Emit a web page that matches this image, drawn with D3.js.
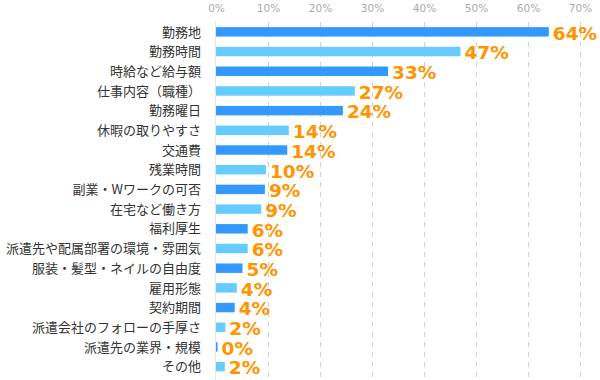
<!DOCTYPE html>
<html>
<head>
<meta charset="utf-8">
<script src="https://cdn.jsdelivr.net/npm/d3@7"></script>
<style>
html, body { margin: 0; padding: 0; background: #fff; }
svg { display: block; }
</style>
</head>
<body>
<svg id="chart" width="600" height="380"></svg>
<script>
const categories = [
  "勤務地", "勤務時間", "時給など給与額", "仕事内容（職種）", "勤務曜日",
  "休暇の取りやすさ", "交通費", "残業時間", "副業・Wワークの可否", "在宅など働き方",
  "福利厚生", "派遣先や配属部署の環境・雰囲気", "服装・髪型・ネイルの自由度", "雇用形態", "契約期間",
  "派遣会社のフォローの手厚さ", "派遣先の業界・規模", "その他"
];
const values = [64.0, 47.0, 33.1, 26.7, 24.4, 14.0, 13.7, 9.6, 9.4, 8.7, 6.1, 6.1, 5.1, 4.0, 3.6, 1.8, 0.3, 1.7];
const valueLabels = ["64%", "47%", "33%", "27%", "24%", "14%", "14%", "10%", "9%", "9%", "6%", "6%", "5%", "4%", "4%", "2%", "0%", "2%"];
const tickValues = [0, 10, 20, 30, 40, 50, 60, 70];

const svg = d3.select("#chart");
const x = d3.scaleLinear().domain([0, 70]).range([216, 580]);
const y = d3.scaleBand().domain(categories).range([22, 376.5]).paddingInner(0.52).paddingOuter(0.26);

// gridlines
svg.append("g").selectAll("line").data(tickValues.filter(d => d > 0)).join("line")
  .attr("x1", d => Math.round(x(d)) + 0.5).attr("x2", d => Math.round(x(d)) + 0.5)
  .attr("y1", 22).attr("y2", 380)
  .attr("stroke", "#d0d0d0").attr("stroke-width", 1).attr("stroke-dasharray", "5,5");

// baseline
svg.append("line")
  .attr("x1", x(0) - 0.5).attr("x2", x(0) - 0.5).attr("y1", 22).attr("y2", 380)
  .attr("stroke", "#e4e4e4").attr("stroke-width", 1);

// top axis labels
const axis = d3.axisTop(x).tickValues(tickValues).tickFormat(d => d + "%").tickSize(0).tickPadding(0);
const gAxis = svg.append("g").attr("transform", "translate(0,12)").call(axis);
gAxis.select(".domain").remove();
gAxis.selectAll("text")
  .attr("fill", "#aaaaaa")
  .attr("font-family", "DejaVu Sans, Verdana, sans-serif")
  .attr("font-size", "10.5px")
  .attr("dy", "0");

// bars
svg.append("g").selectAll("rect").data(categories).join("rect")
  .attr("x", x(0))
  .attr("y", d => y(d))
  .attr("width", (d, i) => Math.max(1.5, x(values[i]) - x(0)))
  .attr("height", y.bandwidth())
  .attr("fill", (d, i) => i % 2 === 0 ? "#3399ff" : "#66ccff");

// category labels
svg.append("g").selectAll("text").data(categories).join("text")
  .attr("x", 201)
  .attr("y", d => y(d) + y.bandwidth() / 2)
  .attr("dy", "0.36em")
  .attr("text-anchor", "end")
  .attr("font-family", "'Noto Sans CJK JP', sans-serif")
  .attr("font-size", "13px")
  .attr("fill", "#333333")
  .text(d => d);

// value labels
svg.append("g").selectAll("text").data(categories).join("text")
  .attr("x", (d, i) => Math.max(x(0) + 1.5, x(values[i])) + 4)
  .attr("y", d => y(d) + y.bandwidth() / 2 + 7.8)
  .attr("font-family", "'DejaVu Sans', Verdana, sans-serif")
  .attr("font-weight", "bold")
  .attr("font-size", "18.5px")
  .attr("fill", "#ff9400")
  .text((d, i) => valueLabels[i]);
</script>
</body>
</html>
